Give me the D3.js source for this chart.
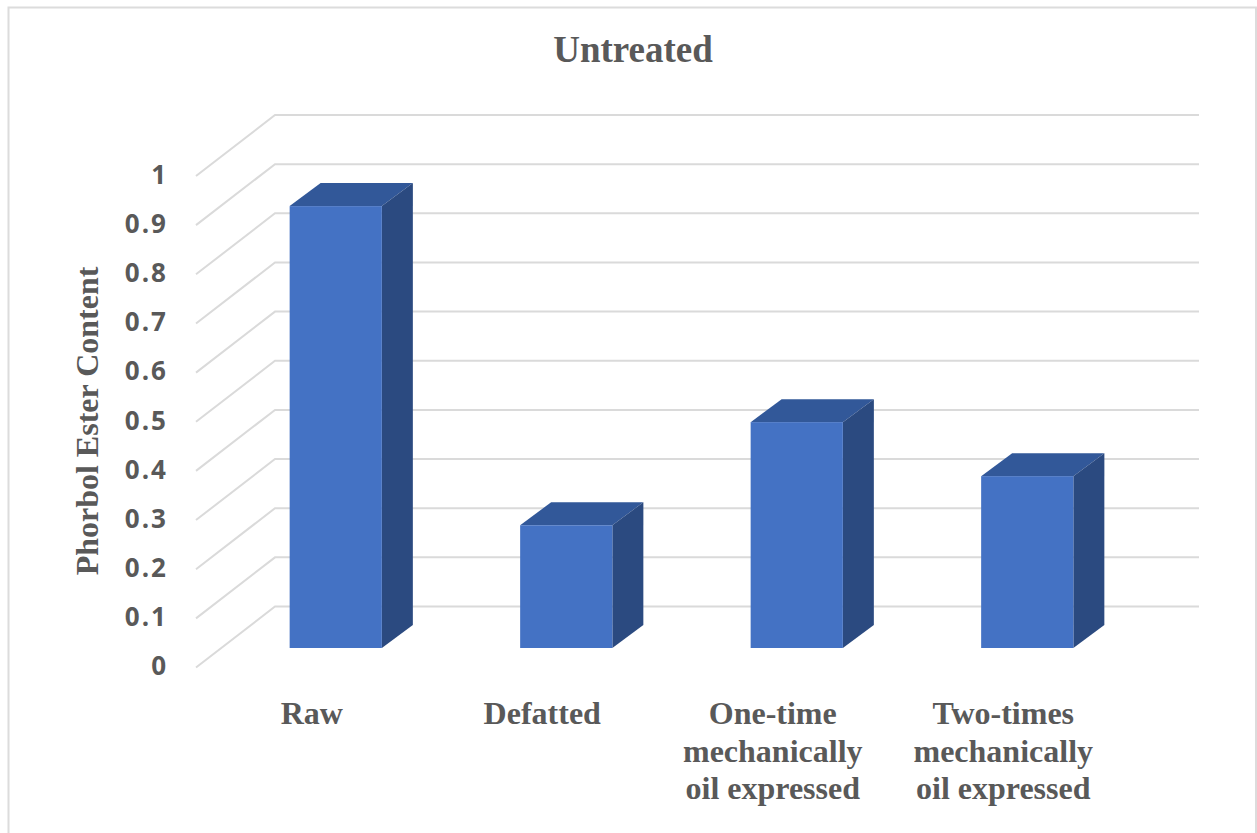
<!DOCTYPE html>
<html>
<head>
<meta charset="utf-8">
<script src="https://cdn.jsdelivr.net/npm/d3@7/dist/d3.min.js"></script>
<style>
html,body{margin:0;padding:0;background:#fff;overflow:hidden}
svg{display:block}
</style>
</head>
<body>
<svg id="chart" width="1257" height="833"></svg>
<script>
const categories = ["Raw", "Defatted", "One-time|mechanically|oil expressed", "Two-times|mechanically|oil expressed"];
const phorbolValues = [0.9, 0.25, 0.46, 0.35];
const tickValues = [0, 0.1, 0.2, 0.3, 0.4, 0.5, 0.6, 0.7, 0.8, 0.9, 1];
const chartTitle = "Untreated";
const yAxisTitle = "Phorbol Ester Content";

const svg = d3.select("#chart");
const serif = "'Liberation Serif','Times New Roman',serif";
const sans = "'Open Sans','Noto Sans',sans-serif";
const textGrey = "#595959";

// Outer chart frame, open along the bottom edge
svg.append("path")
  .attr("d", "M8.5,833V7.5H1256V833")
  .attr("fill", "none").attr("stroke", "#dcdcdc").attr("stroke-width", 2);

// Oblique projection: the front plane sits down and left of the back wall
const floorDepth = {dx: 79, dy: 61};
const barDepth = {dx: 31, dy: -23};
const wallLeft = 275, wallRight = 1199;

const wallY = d3.scaleLinear().domain([0, 1]).range([606.5, 115]);
const frontY = d3.scaleLinear().domain([0, 1]).range([648, 157]);
const x = d3.scaleBand().domain(categories).range([220.5, 1142.5]).paddingInner(0.6).paddingOuter(0.3);

// Gridlines: side wall segment plus back wall segment
svg.append("g").selectAll("path").data(tickValues).join("path")
  .attr("d", d => {
    const y = wallY(d);
    return `M${wallLeft - floorDepth.dx},${y + floorDepth.dy}L${wallLeft},${y}H${wallRight}`;
  })
  .attr("fill", "none").attr("stroke", "#dadada").attr("stroke-width", 2);

// Value labels, placed with a d3 axis
const axis = d3.axisLeft(wallY).tickValues(tickValues).tickFormat(d => String(d)).tickSize(0).tickPadding(0);
const axisG = svg.append("g").attr("transform", `translate(168,${floorDepth.dy - 1})`).call(axis);
axisG.select(".domain").remove();
axisG.selectAll("text")
  .attr("font-family", sans).attr("font-weight", 700).attr("font-size", 26)
  .attr("letter-spacing", 2).attr("fill", textGrey);

// Bars: top, side and front faces
const bars = svg.append("g").selectAll("g").data(phorbolValues).join("g");
const bx = (d, i) => x(categories[i]);
const w = x.bandwidth();

bars.append("path").attr("fill", "#325899")
  .attr("d", (d, i) => {
    const l = bx(d, i), t = frontY(d);
    return `M${l},${t}L${l + barDepth.dx},${t + barDepth.dy}H${l + w + barDepth.dx}L${l + w},${t}Z`;
  });
bars.append("path").attr("fill", "#2b4a80")
  .attr("d", (d, i) => {
    const r = bx(d, i) + w, t = frontY(d), b = frontY(0);
    return `M${r},${t}L${r + barDepth.dx},${t + barDepth.dy}V${b + barDepth.dy}L${r},${b}Z`;
  });
bars.append("rect").attr("fill", "#4472c4")
  .attr("x", bx).attr("width", w)
  .attr("y", d => frontY(d)).attr("height", d => frontY(0) - frontY(d));

// Category labels, one tspan per line, centred left of each bar's axis slot
const catLabels = svg.append("g").selectAll("text").data(categories).join("text")
  .attr("text-anchor", "middle")
  .attr("font-family", serif).attr("font-weight", 700).attr("font-size", 32)
  .attr("fill", textGrey);
catLabels.each(function (c) {
  const t = d3.select(this);
  const cx = x(c) + w / 2 - 24;
  c.split("|").forEach((line, i) => {
    t.append("tspan").attr("x", cx).attr("y", 724 + i * 37.5).text(line);
  });
});

// Chart title
svg.append("text").attr("x", 633).attr("y", 62).attr("text-anchor", "middle")
  .attr("font-family", serif).attr("font-weight", 700).attr("font-size", 37)
  .attr("fill", textGrey).text(chartTitle);

// Vertical axis title
svg.append("text").attr("transform", "translate(98,421) rotate(-90)").attr("text-anchor", "middle")
  .attr("font-family", serif).attr("font-weight", 700).attr("font-size", 32)
  .attr("fill", textGrey).text(yAxisTitle);
</script>
</body>
</html>
